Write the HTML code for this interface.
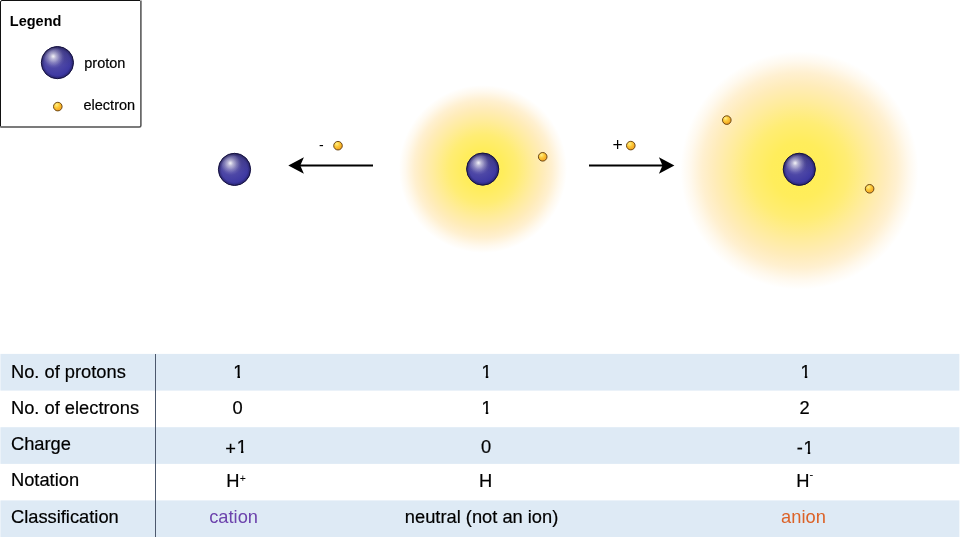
<!DOCTYPE html>
<html lang="en">
<head>
<meta charset="utf-8">
<title>Hydrogen ions</title>
<style>
html,body{margin:0;padding:0;background:#fff;}
body{width:960px;height:537px;overflow:hidden;position:relative;font-family:"Liberation Sans",Arial,sans-serif;}
svg{position:absolute;left:0;top:0;display:block;}
svg text{font-family:"Liberation Sans",Arial,sans-serif;fill:#000;stroke:#000;stroke-width:0.2px;}
</style>
</head>
<body>
<svg width="960" height="537" viewBox="0 0 960 537">
<defs>
  <radialGradient id="glow" cx="50%" cy="50%" r="50%">
    <stop offset="0" stop-color="#ffee52"/>
    <stop offset="0.24" stop-color="#ffed5c"/>
    <stop offset="0.41" stop-color="#ffed74"/>
    <stop offset="0.58" stop-color="#ffec9c"/>
    <stop offset="0.72" stop-color="#ffecba"/>
    <stop offset="0.82" stop-color="#fff0d0"/>
    <stop offset="0.92" stop-color="#fff9ee"/>
    <stop offset="1" stop-color="#ffffff"/>
  </radialGradient>
  <radialGradient id="prot" cx="0.40" cy="0.36" r="0.72" fx="0.37" fy="0.305">
    <stop offset="0" stop-color="#e8e6f4"/>
    <stop offset="0.09" stop-color="#b9b5dc"/>
    <stop offset="0.26" stop-color="#7872bb"/>
    <stop offset="0.48" stop-color="#4d47a6"/>
    <stop offset="0.8" stop-color="#3d38a2"/>
    <stop offset="1" stop-color="#35319a"/>
  </radialGradient>
  <radialGradient id="prot2" cx="0.5" cy="0.5" r="0.5">
    <stop offset="0.8" stop-color="#15123c" stop-opacity="0"/>
    <stop offset="1" stop-color="#15123c" stop-opacity="0.5"/>
  </radialGradient>
  <linearGradient id="prot3" x1="0" y1="0" x2="0" y2="1">
    <stop offset="0" stop-color="#2b2750" stop-opacity="0.42"/>
    <stop offset="0.6" stop-color="#2b2750" stop-opacity="0"/>
  </linearGradient>
  <radialGradient id="prot4" cx="0.37" cy="0.305" r="0.30">
    <stop offset="0" stop-color="#ffffff" stop-opacity="0.8"/>
    <stop offset="0.3" stop-color="#e6e4f6" stop-opacity="0.42"/>
    <stop offset="1" stop-color="#c8c5ea" stop-opacity="0"/>
  </radialGradient>
  <radialGradient id="elec" cx="0.36" cy="0.30" r="0.8">
    <stop offset="0" stop-color="#fff088"/>
    <stop offset="0.4" stop-color="#fdc938"/>
    <stop offset="1" stop-color="#ef961a"/>
  </radialGradient>
  <clipPath id="one"><path d="M-2 -18 H14 V-2.2 H7.9 V2 H5.25 V-2.2 H-2 Z"/></clipPath>
  <clipPath id="pone"><path d="M-2 -18 H28 V-2.2 H19 V2 H16.4 V-2.2 H11.3 V3 H-2 Z"/></clipPath>
  <clipPath id="mone"><path d="M-2 -18 H28 V-2.2 H14 V2 H11.4 V-2.2 H-2 Z"/></clipPath>
  <g id="p"><circle r="16.1" fill="url(#prot)"/><circle r="16.1" fill="url(#prot3)"/><circle r="16.1" fill="url(#prot4)"/><circle r="16.1" fill="url(#prot2)" stroke="#16123e" stroke-width="1"/></g>
  <g id="e"><circle r="4.3" fill="url(#elec)" stroke="#5e3a0a" stroke-width="0.9"/></g>
</defs>

<!-- table -->
<rect x="0.4" y="353.9" width="959" height="36.7" fill="#deeaf5"/>
<rect x="0.4" y="427.2" width="959" height="36.7" fill="#deeaf5"/>
<rect x="0.4" y="500.4" width="959" height="36.6" fill="#deeaf5"/>
<rect x="155" y="354" width="1" height="183" fill="#4c586d"/>

<!-- glows -->
<circle cx="483" cy="169" r="84" fill="url(#glow)"/>
<circle cx="799.5" cy="170.5" r="119" fill="url(#glow)"/>

<!-- legend -->
<rect x="0.5" y="0.5" width="140.4" height="126.4" rx="1.5" fill="#fff"/>
<path d="M0.5 126.5 V2 Q0.5 0.5 2 0.5 H140" fill="none" stroke="#111" stroke-width="1"/>
<path d="M140.9 0.6 V125.5 Q140.9 127 139.4 127 H0.3" fill="none" stroke="#505050" stroke-width="1.5"/>
<text x="9.8" y="26.4" font-size="14.5" font-weight="bold" style="stroke:none">Legend</text>
<use href="#p" x="57.4" y="62.6"/>
<text x="84.3" y="67.5" font-size="14.5">proton</text>
<use href="#e" x="57.8" y="106.6"/>
<text x="83.5" y="110.4" font-size="14.5">electron</text>

<!-- left ion -->
<use href="#p" x="234.5" y="169.4"/>
<!-- left arrow -->
<line x1="298" y1="165.5" x2="373" y2="165.5" stroke="#000" stroke-width="2"/>
<path d="M288.3 165.5 L303.9 157.2 L300.3 165.5 L303.9 173.8 Z" fill="#000"/>
<text x="319" y="149.8" font-size="14" style="stroke:none">-</text>
<use href="#e" x="338" y="145.7"/>

<!-- neutral -->
<use href="#p" x="482.7" y="169.1"/>
<use href="#e" x="542.7" y="156.8"/>

<!-- right arrow -->
<line x1="589" y1="165.5" x2="665" y2="165.5" stroke="#000" stroke-width="2"/>
<path d="M674.4 165.5 L658.9 157.2 L662.5 165.5 L658.9 173.8 Z" fill="#000"/>
<text x="612.4" y="150.9" font-size="17.5" style="stroke:none">+</text>
<use href="#e" x="630.8" y="145.6"/>

<!-- anion -->
<use href="#p" x="799.3" y="169.3"/>
<use href="#e" x="726.8" y="120.1"/>
<use href="#e" x="869.6" y="188.8"/>

<!-- table text -->
<g font-size="19.06" transform="scale(0.96,1)">
<text x="11.46" y="377.9">No. of protons</text>
<text x="11.46" y="414">No. of electrons</text>
<text x="11.46" y="449.6">Charge</text>
<text x="11.46" y="485.8">Notation</text>
<text x="11.46" y="522.8">Classification</text>

<g transform="translate(242.08,377.5)" clip-path="url(#one)"><text x="0.94" y="0">1</text></g>
<text x="242.19" y="413.7">0</text>
<g transform="translate(234.58,453.1)" clip-path="url(#pone)"><text x="0" y="0"><tspan dy="1.8">+</tspan><tspan dy="-1.8" dx="0.94">1</tspan></text></g>
<text x="235.73" y="487">H<tspan font-size="11" dx="0.2" dy="-5" style="stroke:none">+</tspan></text>
<text x="217.92" y="523" style="fill:#6c42ac;stroke:none">cation</text>

<g transform="translate(500.73,377.6)" clip-path="url(#one)"><text x="0.94" y="0">1</text></g>
<g transform="translate(500.73,413.9)" clip-path="url(#one)"><text x="0.94" y="0">1</text></g>
<text x="501.04" y="453.2">0</text>
<text x="498.96" y="487">H</text>
<text x="421.67" y="523.5">neutral (not an ion)</text>

<g transform="translate(833.02,378.1)" clip-path="url(#one)"><text x="0.94" y="0">1</text></g>
<text x="832.81" y="413.7">2</text>
<g transform="translate(830,454)" clip-path="url(#mone)"><text x="0" y="0">-<tspan dx="0.73">1</tspan></text></g>
<text x="829.38" y="486.7">H<tspan font-size="11.6" dy="-8.7" style="stroke-width:0.1px">-</tspan></text>
<text x="813.65" y="522.6" style="fill:#dc6227;stroke:none">anion</text>
</g>
</svg>
</body>
</html>
